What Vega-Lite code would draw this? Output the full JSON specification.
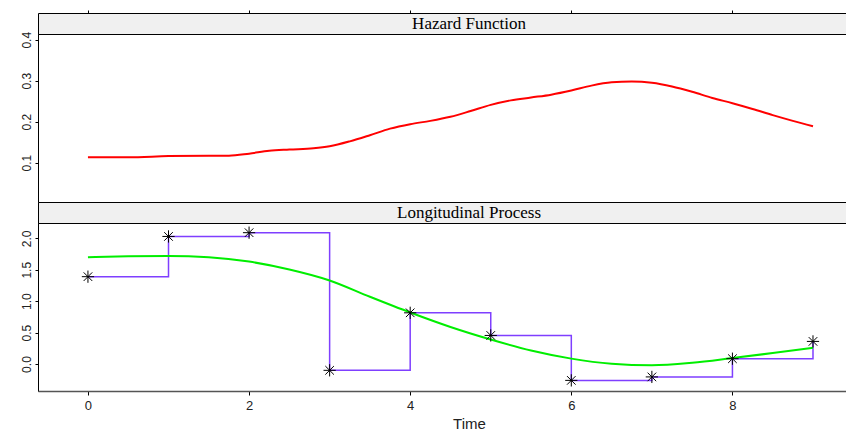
{
  "$schema": "https://vega.github.io/schema/vega-lite/v6.json",
  "padding": {"left": 19, "top": 9, "right": 0, "bottom": 0},
  "background": "white",
  "spacing": 0,
  "bounds": "flush",
  "config": {
    "view": {"stroke": "#000", "strokeWidth": 1},
    "axis": {"labelFont": "Liberation Sans", "titleFont": "Liberation Sans", "labelColor": "#222", "titleColor": "#222", "tickColor": "#000", "domain": false, "grid": false, "tickSize": 3, "labelFontSize": 12}
  },
  "datasets": {
    "hazard": [
      {"t": 0, "h": 0.113}, {"t": 0.5, "h": 0.113}, {"t": 1.0, "h": 0.116}, {"t": 1.5, "h": 0.117},
      {"t": 1.75, "h": 0.117}, {"t": 2.0, "h": 0.122}, {"t": 2.25, "h": 0.129}, {"t": 2.5, "h": 0.132},
      {"t": 2.8, "h": 0.135}, {"t": 3.0, "h": 0.140}, {"t": 3.25, "h": 0.152}, {"t": 3.5, "h": 0.167},
      {"t": 3.75, "h": 0.183}, {"t": 4.0, "h": 0.194}, {"t": 4.25, "h": 0.202}, {"t": 4.5, "h": 0.212},
      {"t": 4.75, "h": 0.226}, {"t": 5.0, "h": 0.241}, {"t": 5.25, "h": 0.252}, {"t": 5.5, "h": 0.259},
      {"t": 5.75, "h": 0.266}, {"t": 6.0, "h": 0.276}, {"t": 6.25, "h": 0.288}, {"t": 6.5, "h": 0.296},
      {"t": 6.75, "h": 0.298}, {"t": 7.0, "h": 0.295}, {"t": 7.25, "h": 0.286}, {"t": 7.5, "h": 0.273},
      {"t": 7.75, "h": 0.258}, {"t": 8.0, "h": 0.245}, {"t": 8.25, "h": 0.231}, {"t": 8.5, "h": 0.216},
      {"t": 8.75, "h": 0.202}, {"t": 9.0, "h": 0.189}
    ],
    "smooth": [
      {"t": 0, "m": 1.70}, {"t": 0.5, "m": 1.715}, {"t": 1.0, "m": 1.72}, {"t": 1.5, "m": 1.70},
      {"t": 2.0, "m": 1.63}, {"t": 2.5, "m": 1.505}, {"t": 3.0, "m": 1.33}, {"t": 3.5, "m": 1.07},
      {"t": 4.0, "m": 0.82}, {"t": 4.5, "m": 0.59}, {"t": 5.0, "m": 0.39}, {"t": 5.5, "m": 0.215},
      {"t": 6.0, "m": 0.086}, {"t": 6.5, "m": 0.005}, {"t": 7.0, "m": -0.02}, {"t": 7.5, "m": 0.02},
      {"t": 8.0, "m": 0.095}, {"t": 8.5, "m": 0.175}, {"t": 9.0, "m": 0.26}
    ],
    "obs": [
      {"t": 0, "y": 1.39}, {"t": 1, "y": 2.03}, {"t": 2, "y": 2.09}, {"t": 3, "y": -0.10},
      {"t": 4, "y": 0.815}, {"t": 5, "y": 0.455}, {"t": 6, "y": -0.26}, {"t": 7, "y": -0.205},
      {"t": 8, "y": 0.085}, {"t": 9, "y": 0.36}
    ]
  },
  "resolve": {"scale": {"x": "independent", "y": "independent"}},
  "vconcat": [
    {
      "width": 862, "height": 21,
      "view": {"fill": "#f0f0f0", "stroke": "#000"},
      "data": {"values": [{"label": "Hazard Function"}]},
      "mark": {"type": "text", "font": "Liberation Serif", "fontSize": 17, "color": "#000"},
      "encoding": {
        "x": {"datum": 4.73, "type": "quantitative", "scale": {"domain": [-0.62, 10.08], "nice": false, "zero": false},
              "axis": {"orient": "top", "values": [0, 2, 4, 6, 8], "labels": false, "title": null, "ticks": true}},
        "text": {"field": "label"}
      }
    },
    {
      "width": 862, "height": 168,
      "data": {"name": "hazard"},
      "mark": {"type": "line", "color": "#ff0000", "strokeWidth": 2, "interpolate": "monotone"},
      "encoding": {
        "x": {"field": "t", "type": "quantitative", "scale": {"domain": [-0.62, 10.08], "nice": false, "zero": false}, "axis": null},
        "y": {"field": "h", "type": "quantitative", "scale": {"domain": [0.004, 0.414], "nice": false, "zero": false},
              "axis": {"values": [0.1, 0.2, 0.3, 0.4], "format": ".1f", "labelAngle": 270, "title": null, "labelPadding": 2}}
      }
    },
    {
      "width": 862, "height": 21,
      "view": {"fill": "#f0f0f0", "stroke": "#000"},
      "data": {"values": [{"label": "Longitudinal Process"}]},
      "mark": {"type": "text", "font": "Liberation Serif", "fontSize": 17, "color": "#000"},
      "encoding": {
        "x": {"datum": 4.73, "type": "quantitative", "scale": {"domain": [-0.62, 10.08], "nice": false, "zero": false}, "axis": null},
        "text": {"field": "label"}
      }
    },
    {
      "width": 862, "height": 168,
      "layer": [
        {
          "data": {"name": "obs"},
          "mark": {"type": "line", "color": "#7f3fff", "strokeWidth": 1.5, "interpolate": "step-after"},
          "encoding": {
            "x": {"field": "t", "type": "quantitative"},
            "y": {"field": "y", "type": "quantitative"}
          }
        },
        {
          "data": {"name": "smooth"},
          "mark": {"type": "line", "color": "#00ee00", "strokeWidth": 2, "interpolate": "monotone"},
          "encoding": {
            "x": {"field": "t", "type": "quantitative"},
            "y": {"field": "m", "type": "quantitative"}
          }
        },
        {
          "data": {"name": "obs"},
          "mark": {"type": "point", "shape": "M-1,0L1,0M0,-1L0,1M-0.7,-0.7L0.7,0.7M-0.7,0.7L0.7,-0.7", "filled": false, "stroke": "#000", "strokeWidth": 1, "size": 150, "opacity": 1},
          "encoding": {
            "x": {"field": "t", "type": "quantitative", "scale": {"domain": [-0.62, 10.08], "nice": false, "zero": false},
                  "axis": {"values": [0, 2, 4, 6, 8], "format": "d", "title": "Time", "titleFontSize": 15, "titleFontWeight": "normal", "titlePadding": 4, "labelPadding": 4, "labelFontSize": 13, "tickSize": 4, "domain": true, "domainColor": "#555", "domainWidth": 1.5}},
            "y": {"field": "y", "type": "quantitative", "scale": {"domain": [-0.429, 2.244], "nice": false, "zero": false},
                  "axis": {"values": [0, 0.5, 1, 1.5, 2], "format": ".1f", "labelAngle": 270, "title": null, "labelPadding": 2}}
          }
        }
      ]
    }
  ]
}
